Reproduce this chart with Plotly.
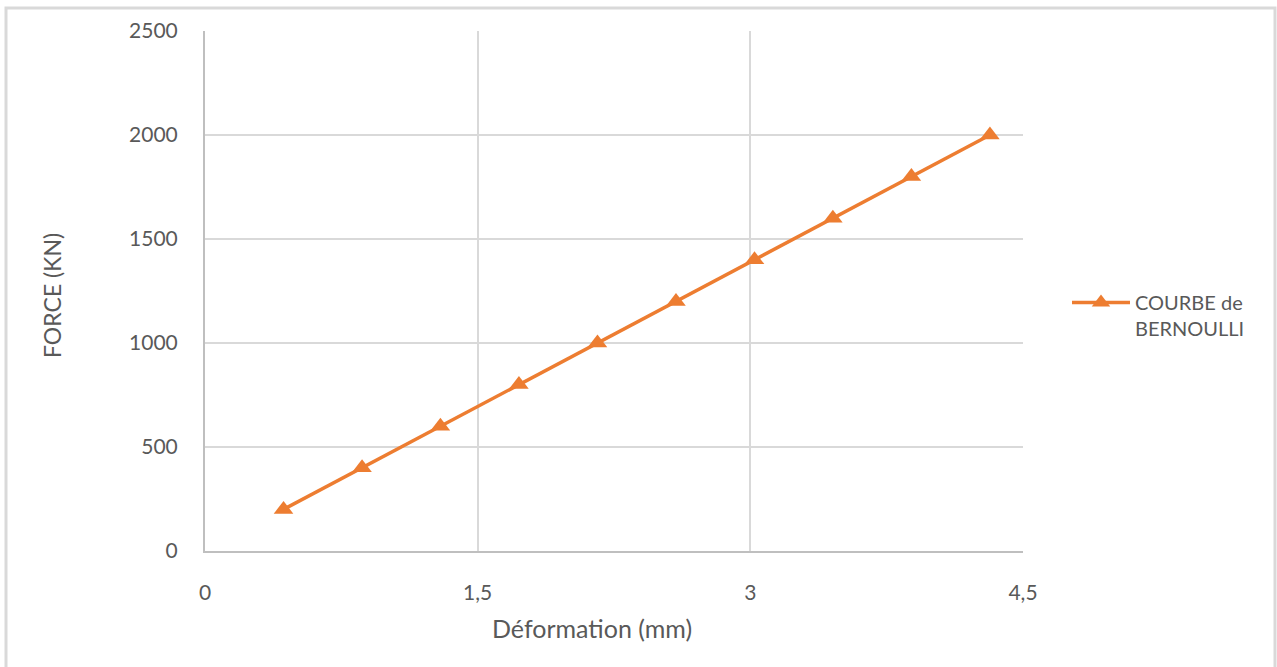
import plotly.graph_objects as go

# Load-deformation data
deformation_mm = [0.432, 0.864, 1.295, 1.727, 2.159, 2.591, 3.023, 3.454, 3.886, 4.318]
force_kn = [200, 400, 600, 800, 1000, 1200, 1400, 1600, 1800, 2000]

x_ticks = [0, 1.5, 3, 4.5]
x_tick_text = ["0", "1,5", "3", "4,5"]
y_ticks = [0, 500, 1000, 1500, 2000, 2500]

series_name = "COURBE de<br>BERNOULLI"
x_title = "Déformation (mm)"
y_title = "FORCE (KN)"

ORANGE = "#ED7D31"
TEXT = "#595959"
GRID = "#D9D9D9"
AXIS = "#BFBFBF"
FONT = "Lato, 'Open Sans', sans-serif"

W, H = 1277, 667
L, R, T, B = 205, 254, 31, 116
pw = W - L - R
ph = H - T - B


def px_x(px):
    """Horizontal pixel position -> paper coordinate."""
    return (px - L) / pw


def px_y(py):
    """Vertical pixel position (from top) -> paper coordinate."""
    return (H - B - py) / ph


fig = go.Figure()
fig.add_trace(go.Scatter(
    x=deformation_mm, y=force_kn,
    mode="lines+markers",
    name=series_name,
    line=dict(color=ORANGE, width=3.5),
    marker=dict(symbol="triangle-up", size=17, color=ORANGE),
))

fig.update_layout(
    width=W, height=H,
    margin=dict(l=L, r=R, t=T, b=B, pad=0),
    paper_bgcolor="white",
    plot_bgcolor="white",
    font=dict(family=FONT, size=21, color=TEXT),
    showlegend=True,
    legend=dict(
        x=px_x(1067), y=px_y(283),
        xanchor="left", yanchor="top",
        valign="top",
        font=dict(size=20, color=TEXT),
        bgcolor="rgba(0,0,0,0)",
        itemwidth=58,
        tracegroupgap=0,
    ),
    xaxis=dict(
        range=[0, 4.5],
        tickvals=x_ticks, ticktext=x_tick_text,
        showgrid=True, gridcolor=GRID, gridwidth=2,
        showline=True, linecolor=AXIS, linewidth=2,
        zeroline=False,
        ticks="", ticklabelstandoff=22,
        tickfont=dict(size=21, color=TEXT),
    ),
    yaxis=dict(
        range=[0, 2500],
        tickvals=y_ticks,
        showgrid=True, gridcolor=GRID, gridwidth=2,
        showline=True, linecolor=AXIS, linewidth=2,
        zeroline=False,
        ticks="", ticklabelstandoff=21,
        tickfont=dict(size=21, color=TEXT),
    ),
)

# Axis titles
fig.add_annotation(
    text=x_title, xref="paper", yref="paper",
    x=px_x(592), y=px_y(628),
    xanchor="center", yanchor="middle",
    showarrow=False, font=dict(size=25, color=TEXT),
)
fig.add_annotation(
    text=y_title, xref="paper", yref="paper",
    x=px_x(52), y=px_y(296),
    xanchor="center", yanchor="middle", textangle=-90,
    showarrow=False, font=dict(size=23, color=TEXT),
)

# Outer chart frame
fig.add_shape(
    type="rect", xref="paper", yref="paper",
    x0=px_x(6), x1=px_x(1275),
    y0=px_y(700), y1=px_y(8),
    line=dict(color=GRID, width=3),
    fillcolor="rgba(0,0,0,0)",
    layer="below",
)

fig.write_html("out.html")
